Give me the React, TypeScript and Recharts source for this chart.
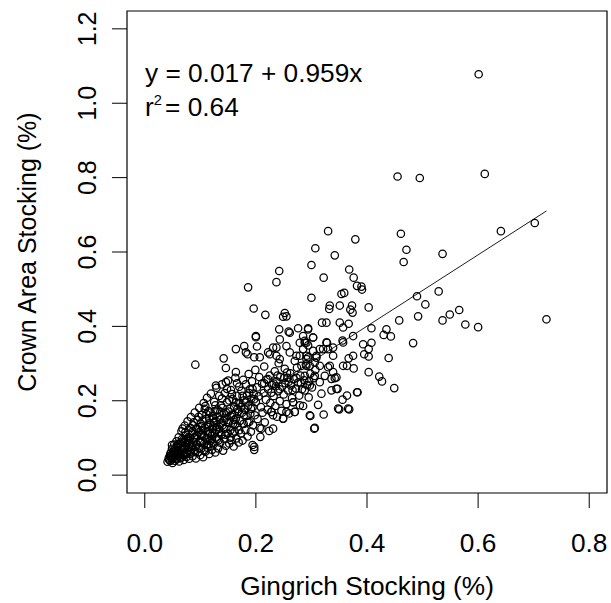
import { ScatterChart, Scatter, XAxis, YAxis, ReferenceArea, ReferenceLine } from "recharts";

const xTicks = [0, 0.2, 0.4, 0.6, 0.8];
const yTicks = [0, 0.2, 0.4, 0.6, 0.8, 1.0, 1.2];
const xDomain: [number, number] = [-0.032, 0.832];
const yDomain: [number, number] = [-0.048, 1.248];

// fitted model shown on the plot
const intercept = 0.017;
const slope = 0.959;
const rSquared = 0.64;
const fitRange = [0.04, 0.723];

// [gingrich, crown area] pairs
const lowCluster: [number, number][] = [
  [0.041, 0.036], [0.043, 0.045], [0.045, 0.052], [0.046, 0.038], [0.047, 0.061], [0.048, 0.044], [0.049, 0.071],
  [0.05, 0.033], [0.051, 0.055], [0.052, 0.048], [0.053, 0.082], [0.054, 0.039], [0.055, 0.066], [0.056, 0.058],
  [0.057, 0.091], [0.058, 0.043], [0.059, 0.074], [0.06, 0.052], [0.061, 0.102], [0.062, 0.037], [0.063, 0.063],
  [0.064, 0.085], [0.065, 0.047], [0.066, 0.118], [0.067, 0.071], [0.049, 0.081], [0.068, 0.125],
  [0.068, 0.056], [0.069, 0.094], [0.07, 0.041], [0.071, 0.079], [0.072, 0.133], [0.073, 0.062], [0.074, 0.108],
  [0.075, 0.049], [0.076, 0.087], [0.077, 0.145], [0.078, 0.068], [0.079, 0.121], [0.08, 0.044], [0.081, 0.099],
  [0.082, 0.058], [0.083, 0.156], [0.084, 0.076], [0.085, 0.112], [0.086, 0.051], [0.087, 0.134], [0.088, 0.089],
  [0.089, 0.067], [0.09, 0.168], [0.091, 0.104], [0.092, 0.045], [0.093, 0.126], [0.094, 0.082], [0.095, 0.148],
  [0.096, 0.061], [0.097, 0.115], [0.098, 0.181], [0.099, 0.093], [0.1, 0.054], [0.072, 0.088], [0.078, 0.101],
  [0.101, 0.138], [0.102, 0.072], [0.103, 0.162], [0.104, 0.109], [0.105, 0.048], [0.106, 0.194], [0.107, 0.085],
  [0.108, 0.127], [0.109, 0.063], [0.11, 0.151], [0.111, 0.099], [0.112, 0.208], [0.113, 0.074], [0.114, 0.118],
  [0.115, 0.172], [0.116, 0.057], [0.117, 0.141], [0.118, 0.092], [0.119, 0.219], [0.12, 0.106], [0.121, 0.068],
  [0.122, 0.159], [0.123, 0.131], [0.124, 0.083], [0.125, 0.197], [0.126, 0.114], [0.127, 0.061], [0.128, 0.146],
  [0.129, 0.235], [0.13, 0.097], [0.104, 0.092], [0.108, 0.178], [0.113, 0.135], [0.118, 0.113], [0.122, 0.088],
  [0.126, 0.172], [0.115, 0.083], [0.102, 0.121], [0.111, 0.164], [0.128, 0.121],
  [0.131, 0.176], [0.132, 0.072], [0.133, 0.124], [0.134, 0.213], [0.135, 0.149], [0.136, 0.087], [0.137, 0.188],
  [0.138, 0.109], [0.139, 0.244], [0.14, 0.134], [0.141, 0.066], [0.142, 0.167], [0.143, 0.098], [0.144, 0.221],
  [0.145, 0.153], [0.146, 0.079], [0.147, 0.129], [0.148, 0.196], [0.149, 0.112], [0.15, 0.254], [0.151, 0.141],
  [0.152, 0.085], [0.153, 0.178], [0.154, 0.121], [0.155, 0.229], [0.156, 0.094], [0.157, 0.163], [0.158, 0.205],
  [0.159, 0.138], [0.16, 0.077], [0.161, 0.184], [0.162, 0.117], [0.163, 0.262], [0.164, 0.152], [0.165, 0.099],
  [0.166, 0.213], [0.167, 0.131], [0.168, 0.171], [0.169, 0.088], [0.17, 0.238],
];

// second pass over the darkest part of the cloud
const coreFill: [number, number][] = [
  [0.044, 0.041], [0.047, 0.049], [0.052, 0.062], [0.055, 0.044], [0.058, 0.079], [0.061, 0.058], [0.063, 0.049],
  [0.066, 0.088], [0.069, 0.066], [0.071, 0.053], [0.074, 0.095], [0.077, 0.074], [0.08, 0.083], [0.083, 0.064],
  [0.086, 0.118], [0.089, 0.101], [0.092, 0.077], [0.095, 0.124], [0.098, 0.072], [0.101, 0.109], [0.104, 0.147],
  [0.107, 0.066], [0.11, 0.118], [0.113, 0.096], [0.116, 0.153], [0.119, 0.079], [0.122, 0.124], [0.125, 0.142],
  [0.128, 0.101], [0.131, 0.157], [0.134, 0.116], [0.137, 0.139], [0.14, 0.181], [0.143, 0.124], [0.146, 0.169],
  [0.149, 0.143], [0.152, 0.201], [0.155, 0.158], [0.158, 0.112], [0.161, 0.149], [0.164, 0.196], [0.167, 0.178],
  [0.17, 0.121], [0.173, 0.183], [0.176, 0.213], [0.179, 0.162], [0.182, 0.198], [0.185, 0.142], [0.188, 0.221],
  [0.191, 0.179], [0.194, 0.232], [0.197, 0.204],
  [0.046, 0.057], [0.05, 0.046], [0.053, 0.069], [0.057, 0.051], [0.06, 0.084], [0.064, 0.059], [0.067, 0.097],
  [0.07, 0.072], [0.073, 0.116], [0.076, 0.058], [0.079, 0.092], [0.082, 0.127], [0.085, 0.079], [0.088, 0.142],
  [0.091, 0.062], [0.094, 0.108], [0.097, 0.157], [0.1, 0.087], [0.103, 0.131], [0.106, 0.104], [0.109, 0.186],
  [0.112, 0.081], [0.115, 0.129], [0.118, 0.168], [0.121, 0.097], [0.124, 0.153], [0.127, 0.188], [0.13, 0.129],
  [0.133, 0.094], [0.136, 0.171], [0.139, 0.206], [0.142, 0.146], [0.145, 0.109], [0.148, 0.232], [0.151, 0.171],
  [0.154, 0.101], [0.157, 0.218], [0.16, 0.162], [0.163, 0.137], [0.166, 0.247], [0.169, 0.193],
];

const midCluster: [number, number][] = [
  [0.171, 0.146], [0.172, 0.194], [0.173, 0.112], [0.174, 0.227], [0.175, 0.168], [0.176, 0.093], [0.177, 0.256],
  [0.178, 0.138], [0.179, 0.201], [0.18, 0.176], [0.181, 0.121], [0.182, 0.244], [0.183, 0.159], [0.184, 0.214],
  [0.185, 0.104], [0.186, 0.187], [0.187, 0.272], [0.188, 0.143], [0.189, 0.231], [0.19, 0.165], [0.191, 0.117],
  [0.192, 0.206], [0.193, 0.252], [0.194, 0.182], [0.195, 0.134], [0.196, 0.219], [0.197, 0.076], [0.198, 0.161],
  [0.199, 0.283], [0.2, 0.197], [0.197, 0.068], [0.194, 0.081], [0.208, 0.103], [0.21, 0.125],
  [0.202, 0.236], [0.203, 0.151], [0.205, 0.212], [0.206, 0.264], [0.207, 0.127], [0.209, 0.183], [0.211, 0.246],
  [0.212, 0.168], [0.214, 0.221], [0.215, 0.292], [0.216, 0.142], [0.218, 0.203], [0.219, 0.257], [0.221, 0.176],
  [0.222, 0.231], [0.224, 0.119], [0.225, 0.268], [0.226, 0.194], [0.228, 0.17], [0.229, 0.243], [0.231, 0.125],
  [0.232, 0.213], [0.234, 0.279], [0.235, 0.186], [0.237, 0.252], [0.238, 0.157], [0.24, 0.226], [0.241, 0.301],
  [0.243, 0.199], [0.244, 0.264], [0.246, 0.173], [0.247, 0.238], [0.249, 0.152], [0.25, 0.217], [0.252, 0.286],
  [0.253, 0.247], [0.255, 0.191], [0.257, 0.262], [0.258, 0.228], [0.26, 0.166], [0.262, 0.274], [0.263, 0.241],
  [0.265, 0.207], [0.267, 0.196], [0.268, 0.258], [0.27, 0.17], [0.272, 0.233], [0.274, 0.289], [0.276, 0.249],
  [0.278, 0.214], [0.28, 0.268], [0.283, 0.231], [0.285, 0.186], [0.287, 0.255], [0.29, 0.298], [0.292, 0.242],
  [0.295, 0.209], [0.298, 0.273], [0.301, 0.236], [0.304, 0.261], [0.307, 0.283],
  [0.215, 0.247], [0.222, 0.258], [0.228, 0.222], [0.236, 0.239], [0.243, 0.231], [0.251, 0.262], [0.259, 0.251],
  [0.266, 0.229], [0.273, 0.262], [0.281, 0.247], [0.288, 0.228], [0.296, 0.252], [0.239, 0.268], [0.256, 0.276],
  [0.232, 0.246], [0.231, 0.161], [0.255, 0.17], [0.279, 0.188], [0.249, 0.152], [0.27, 0.17], [0.267, 0.196],
  [0.228, 0.17], [0.128, 0.241], [0.146, 0.25], [0.164, 0.277],
];

const upperSpread: [number, number][] = [
  [0.142, 0.314], [0.146, 0.288], [0.164, 0.339], [0.179, 0.347], [0.185, 0.325], [0.197, 0.317], [0.207, 0.317],
  [0.2, 0.371], [0.202, 0.346], [0.231, 0.343], [0.225, 0.325], [0.261, 0.33], [0.279, 0.321], [0.27, 0.307],
  [0.294, 0.317], [0.243, 0.312], [0.243, 0.365], [0.242, 0.392], [0.259, 0.386], [0.276, 0.395], [0.294, 0.395],
  [0.288, 0.361], [0.294, 0.349], [0.303, 0.37], [0.252, 0.436], [0.249, 0.426], [0.255, 0.427], [0.217, 0.431],
  [0.196, 0.448], [0.186, 0.505], [0.242, 0.549], [0.237, 0.519], [0.091, 0.297], [0.261, 0.383], [0.279, 0.356],
  [0.237, 0.343], [0.182, 0.33], [0.222, 0.33], [0.237, 0.321], [0.255, 0.347], [0.273, 0.321], [0.291, 0.312],
  [0.309, 0.321], [0.327, 0.357], [0.339, 0.343], [0.357, 0.357], [0.375, 0.374], [0.339, 0.277], [0.364, 0.294],
  [0.375, 0.321], [0.345, 0.232], [0.364, 0.214], [0.382, 0.223], [0.348, 0.179], [0.366, 0.179], [0.297, 0.161],
  [0.306, 0.127], [0.291, 0.356], [0.285, 0.339], [0.303, 0.334], [0.291, 0.321], [0.309, 0.316], [0.282, 0.294],
  [0.297, 0.294], [0.315, 0.294], [0.288, 0.267], [0.306, 0.267], [0.324, 0.267], [0.297, 0.241], [0.315, 0.25],
  [0.333, 0.294], [0.339, 0.321], [0.321, 0.339], [0.336, 0.259], [0.318, 0.219], [0.336, 0.228], [0.345, 0.263],
  [0.285, 0.374], [0.2, 0.374],
];

const outerPoints: [number, number][] = [
  [0.601, 1.078], [0.455, 0.803], [0.495, 0.799], [0.612, 0.81], [0.33, 0.656], [0.379, 0.634], [0.461, 0.649],
  [0.641, 0.656], [0.702, 0.678], [0.307, 0.61], [0.342, 0.591], [0.471, 0.606], [0.466, 0.573], [0.536, 0.595],
  [0.3, 0.565], [0.368, 0.553], [0.322, 0.531], [0.376, 0.531], [0.382, 0.509], [0.39, 0.507], [0.391, 0.499],
  [0.3, 0.477], [0.359, 0.49], [0.354, 0.487], [0.333, 0.456], [0.332, 0.447], [0.351, 0.456], [0.373, 0.456],
  [0.374, 0.437], [0.37, 0.445], [0.403, 0.451], [0.49, 0.481], [0.529, 0.494], [0.505, 0.459], [0.458, 0.416],
  [0.492, 0.427], [0.536, 0.416], [0.549, 0.432], [0.566, 0.444], [0.577, 0.405], [0.6, 0.398], [0.723, 0.419],
  [0.319, 0.41], [0.327, 0.41], [0.351, 0.41], [0.367, 0.407], [0.357, 0.397], [0.408, 0.395], [0.435, 0.392],
  [0.43, 0.377], [0.443, 0.373], [0.483, 0.355], [0.439, 0.315], [0.393, 0.352], [0.408, 0.356], [0.403, 0.339],
  [0.395, 0.325], [0.403, 0.319], [0.356, 0.362], [0.328, 0.356], [0.33, 0.339], [0.367, 0.314], [0.376, 0.287],
  [0.357, 0.294], [0.403, 0.277], [0.422, 0.265], [0.427, 0.252], [0.449, 0.234], [0.383, 0.223], [0.347, 0.232],
  [0.356, 0.203], [0.35, 0.177], [0.368, 0.177], [0.322, 0.163], [0.298, 0.159], [0.305, 0.125], [0.312, 0.189],
  [0.342, 0.261], [0.33, 0.29], [0.306, 0.303], [0.291, 0.294], [0.315, 0.339], [0.294, 0.392], [0.303, 0.37],
  [0.288, 0.356],
];

const points = [...lowCluster, ...coreFill, ...midCluster, ...upperSpread, ...outerPoints].map(([g, c]) => ({ g, c }));

const FONT = "'Liberation Sans', Arial, sans-serif";
const FS = 25;
const STRETCH = 1.05;

// R output looks slightly wider than Arial, so stretch horizontal text a touch
const HText = ({ x, y, anchor = "start", children }: any) => (
  <text
    transform={`translate(${x},${y}) scale(${STRETCH},1)`}
    textAnchor={anchor}
    fontFamily={FONT}
    fontSize={FS}
    fill="#000"
  >
    {children}
  </text>
);

const XTick = ({ x, y, payload }: any) => (
  <HText x={x} y={y + 42} anchor="middle">
    {Number(payload.value).toFixed(1)}
  </HText>
);

const YTick = ({ x, y, payload }: any) => (
  <text
    x={x - 14}
    y={y}
    transform={`rotate(-90, ${x - 14}, ${y})`}
    textAnchor="middle"
    fontFamily={FONT}
    fontSize={FS}
    fill="#000"
  >
    {Number(payload.value).toFixed(1)}
  </text>
);

const Ring = ({ cx, cy }: any) => <circle cx={cx} cy={cy} r={3.7} fill="none" stroke="#000" strokeWidth={1.25} />;

export default function App() {
  return (
    <div style={{ position: "absolute", left: 0, top: 0, background: "#fff" }}>
      <ScatterChart width={611} height={603} margin={{ top: 11, right: 4, bottom: 0, left: 0 }}>
        <XAxis
          type="number"
          dataKey="g"
          domain={xDomain}
          ticks={xTicks}
          allowDataOverflow
          axisLine={false}
          tickLine={{ stroke: "#000", strokeWidth: 1 }}
          tickSize={15}
          height={110}
          tick={<XTick />}
        />
        <YAxis
          type="number"
          dataKey="c"
          domain={yDomain}
          ticks={yTicks}
          allowDataOverflow
          axisLine={false}
          tickLine={{ stroke: "#000", strokeWidth: 1 }}
          tickSize={15}
          width={127}
          tick={<YTick />}
        />
        <ReferenceArea
          x1={xDomain[0]}
          x2={xDomain[1]}
          y1={yDomain[0]}
          y2={yDomain[1]}
          fill="none"
          fillOpacity={0}
          stroke="#000"
          strokeWidth={1.2}
          ifOverflow="visible"
        />
        <Scatter data={points} shape={<Ring />} isAnimationActive={false} />
        <ReferenceLine
          segment={[
            { x: fitRange[0], y: intercept + slope * fitRange[0] },
            { x: fitRange[1], y: intercept + slope * fitRange[1] },
          ]}
          stroke="#000"
          strokeWidth={0.9}
          ifOverflow="visible"
        />
        <HText x={145} y={82}>
          {`y = ${intercept.toFixed(3)} + ${slope.toFixed(3)}x`}
        </HText>
        <text transform={`translate(145,116) scale(${STRETCH},1)`} fontFamily={FONT} fontSize={FS} fill="#000">
          r<tspan fontSize={14} dy={-11}>2</tspan>
          <tspan dy={11} dx={3}>= {rSquared.toFixed(2)}</tspan>
        </text>
        <HText x={367} y={595} anchor="middle">Gingrich Stocking (%)</HText>
        <text
          x={36}
          y={252}
          transform="rotate(-90, 36, 252)"
          textAnchor="middle"
          fontFamily={FONT}
          fontSize={FS}
          fill="#000"
        >
          Crown Area Stocking (%)
        </text>
      </ScatterChart>
    </div>
  );
}
